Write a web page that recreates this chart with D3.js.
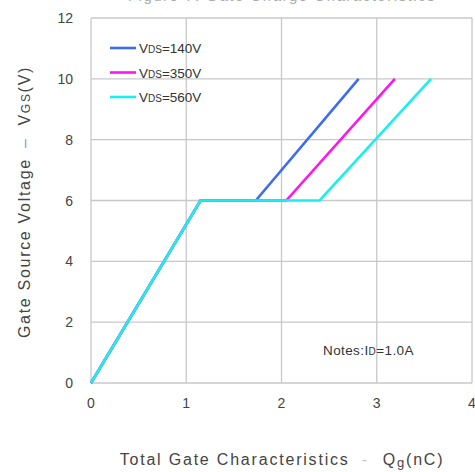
<!DOCTYPE html>
<html><head><meta charset="utf-8">
<script src="https://cdn.jsdelivr.net/npm/d3@7"></script>
<style>body{margin:0;background:#fff}svg{display:block;font-family:Arial,"Liberation Sans",sans-serif}</style>
</head><body>
<svg id="c" width="475" height="472"></svg>
<script>
const seriesNames = ["140V", "350V", "560V"];
const seriesColors = ["#3d6cf0", "#ff14f0", "#18f0f0"];
const qg140 = [0, 1.15, 1.73, 2.81];
const qg350 = [0, 1.15, 2.05, 3.19];
const qg560 = [0, 1.15, 2.40, 3.57];
const vgsVals = [0, 6, 6, 10];
const xTicks = [0, 1, 2, 3, 4];
const yTicks = [0, 2, 4, 6, 8, 10, 12];

const svg = d3.select("#c");
const x = d3.scaleLinear().domain([0, 4]).range([91, 472]);
const y = d3.scaleLinear().domain([0, 12]).range([383, 18]);

// cut-off title at top (only its lower edge shows, as in the reference)
svg.append("text").attr("x", 282).attr("y", 1).attr("text-anchor", "middle")
  .attr("font-size", 15).attr("letter-spacing", 1.5).attr("fill", "#aaa")
  .text("Figure 7. Gate Charge Characteristics");

// grid
svg.append("g").selectAll("line").data(xTicks).join("line")
  .attr("x1", d => x(d)).attr("x2", d => x(d)).attr("y1", y(12)).attr("y2", y(0))
  .attr("stroke", "#c8c8c8").attr("stroke-width", 1.3);
svg.append("g").selectAll("line").data(yTicks).join("line")
  .attr("y1", d => y(d)).attr("y2", d => y(d)).attr("x1", x(0)).attr("x2", x(4))
  .attr("stroke", "#c8c8c8").attr("stroke-width", 1.3);

// tick labels
svg.append("g").selectAll("text").data(yTicks).join("text")
  .attr("x", 73).attr("y", d => y(d) + 5).attr("text-anchor", "end")
  .attr("font-size", 14).attr("fill", "#444").text(d => d);
svg.append("g").selectAll("text").data(xTicks).join("text")
  .attr("x", d => x(d)).attr("y", 408).attr("text-anchor", "middle")
  .attr("font-size", 14).attr("fill", "#444").text(d => d);

// series
const line = d3.line().x(d => x(d[0])).y(d => y(d[1]));
[qg140, qg350, qg560].forEach((qs, i) => {
  svg.append("path").datum(qs.map((q, j) => [q, vgsVals[j]]))
    .attr("d", line).attr("fill", "none").attr("stroke", seriesColors[i])
    .attr("stroke-width", 2.6).attr("stroke-linejoin", "miter");
});

// legend
const lg = svg.append("g");
seriesNames.forEach((n, i) => {
  const ly = 48 + i * 24.5;
  lg.append("line").attr("x1", 110).attr("x2", 136).attr("y1", ly).attr("y2", ly)
    .attr("stroke", seriesColors[i]).attr("stroke-width", 2.6);
  const t = lg.append("text").attr("x", 139).attr("y", ly + 5).attr("font-size", 13.5).attr("fill", "#333");
  t.append("tspan").text("V");
  t.append("tspan").attr("font-size", 10).text("DS");
  t.append("tspan").text("=" + n);
});

// note
const nt = svg.append("text").attr("x", 323).attr("y", 355).attr("font-size", 13.5)
  .attr("letter-spacing", 0.4).attr("fill", "#333");
nt.append("tspan").text("Notes:I");
nt.append("tspan").attr("font-size", 10).text("D");
nt.append("tspan").text("=1.0A");

// x title
const xt = svg.append("text").attr("x", 282).attr("y", 465).attr("text-anchor", "middle")
  .attr("font-size", 16).attr("letter-spacing", 1.8).attr("fill", "#444");
xt.append("tspan").text("Total Gate Characteristics");
xt.append("tspan").attr("fill", "#c4c4c4").attr("dx", 12).text("-");
xt.append("tspan").attr("dx", 14).text("Q");
xt.append("tspan").attr("font-size", 13).attr("dy", 2).text("g");
xt.append("tspan").attr("dy", -2).text("(nC)");

// y title
const yt = svg.append("text").attr("transform", "translate(30,202) rotate(-90)")
  .attr("text-anchor", "middle").attr("font-size", 16).attr("letter-spacing", 1.7).attr("fill", "#444");
yt.append("tspan").text("Gate Source Voltage");
yt.append("tspan").attr("fill", "#999").attr("dx", 10).text("–");
yt.append("tspan").attr("dx", 12).text("V");
yt.append("tspan").attr("font-size", 12).text("GS");
yt.append("tspan").text("(V)");
</script>
</body></html>
